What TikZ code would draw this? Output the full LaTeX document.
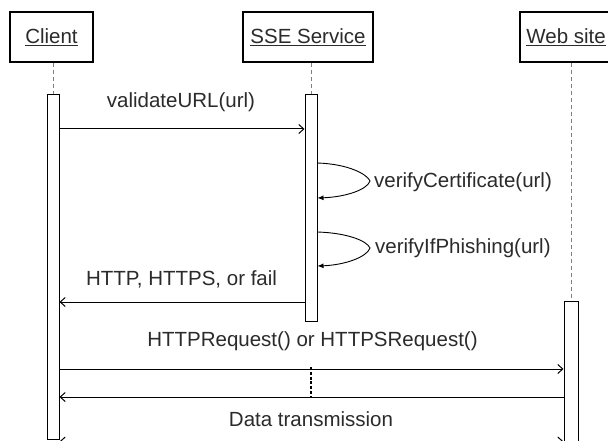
\documentclass[tikz,border=0pt]{standalone}
\usepackage{fontspec}
\setmainfont{Liberation Sans}
\usetikzlibrary{arrows.meta}
\definecolor{ink}{HTML}{2B2B2B}
\tikzset{
  lbl/.style={inner sep=0pt, text=ink, font=\fontsize{20.5}{24}\selectfont},
  objbox/.style={draw=black, line width=1.2pt, fill=white, minimum height=50pt, inner sep=0pt},
  bar/.style={draw=black, line width=1pt, fill=white, minimum width=12pt, inner sep=0pt},
  life/.style={draw=gray, line width=0.9pt, dash pattern=on 4pt off 3pt},
  msg/.style={draw=black, line width=1pt, -{Straight Barb[length=5pt,width=9pt]}},
  msgboth/.style={draw=black, line width=1pt, {Straight Barb[length=5pt,width=9pt]}-{Straight Barb[length=5pt,width=9pt]}},
  selfmsg/.style={draw=black, line width=0.9pt, -{Latex[length=6pt,width=5pt]}},
  gap/.style={draw=black, line width=2.8pt, dash pattern=on 3pt off 1.8pt}
}
\begin{document}
\begin{tikzpicture}[x=1pt,y=-1pt]
\useasboundingbox (0,0) rectangle (608,441);
\clip (0,0) rectangle (608,441);
\fill[white] (0,0) rectangle (608,441);

% participants
\node[objbox, minimum width=83pt] (client) at (51.5,37) {};
\node[lbl] (tclient) at (client) {\underline{Client}};
\node[objbox, minimum width=130pt] (sse) at (308,37) {};
\node[lbl] (tsse) at (sse) {\underline{SSE Service}};
\node[objbox, minimum width=96pt] (web) at (568,37) {};
\node[lbl, anchor=east] (tweb) at (606,37) {\underline{Web site}};

% activation bars
\node[bar, minimum height=344pt] (cbar) at (53,267) {};
\node[bar, minimum height=226pt] (sbar) at (311,208) {};
\node[bar, minimum width=14pt, minimum height=140pt] (wbar) at (571,371) {};

% lifelines
\draw[life] (cbar.north |- client.south) -- (cbar.north);
\draw[life] (sbar.north |- sse.south) -- (sbar.north);
\draw[life] (wbar.north |- web.south) -- (wbar.north);

% message heights
\coordinate (y1) at (0,129);
\coordinate (y2a) at (0,163);
\coordinate (y2b) at (0,198);
\coordinate (y3a) at (0,232);
\coordinate (y3b) at (0,266);
\coordinate (y4) at (0,302);
\coordinate (y5) at (0,369);
\coordinate (y6) at (0,397);
\coordinate (y7) at (0,441.5);
\coordinate (tip1) at (370,181);
\coordinate (tip2) at (370,248);

% validateURL
\draw[msg] (cbar.east |- y1) -- (sbar.west |- y1);
\node[lbl] (l1) at (181,102) {validateURL(url)};

% self calls
\draw[selfmsg] (sbar.east |- y2a) .. controls (348,164) and (367,174) .. (tip1)
               .. controls (367,190) and (345,197) .. (sbar.east |- y2b);
\node[lbl, anchor=west] (l2) at (374,182) {verifyCertificate(url)};
\draw[selfmsg] (sbar.east |- y3a) .. controls (348,233) and (367,241) .. (tip2)
               .. controls (367,257) and (345,265) .. (sbar.east |- y3b);
\node[lbl, anchor=west] (l3) at (375,248) {verifyIfPhishing(url)};

% result back to the client
\draw[msg] (sbar.west |- y4) -- (cbar.east |- y4);
\node[lbl] (l4) at (181.5,279) {HTTP, HTTPS, or fail};

% request to the web site
\draw[msg] (cbar.east |- y5) -- (wbar.west |- y5);
\node[lbl] (l5) at (312.5,341) {HTTPRequest() or HTTPSRequest()};
\draw[msg] (wbar.west |- y6) -- (cbar.east |- y6);
\coordinate (g1) at (311,367);
\coordinate (g2) at (311,396);
\draw[gap] (g1) -- (g2);

% data transmission
\node[lbl] (l6) at (311,419) {Data transmission};
\draw[msgboth] (cbar.east |- y7) -- (wbar.west |- y7);
\end{tikzpicture}
\end{document}
